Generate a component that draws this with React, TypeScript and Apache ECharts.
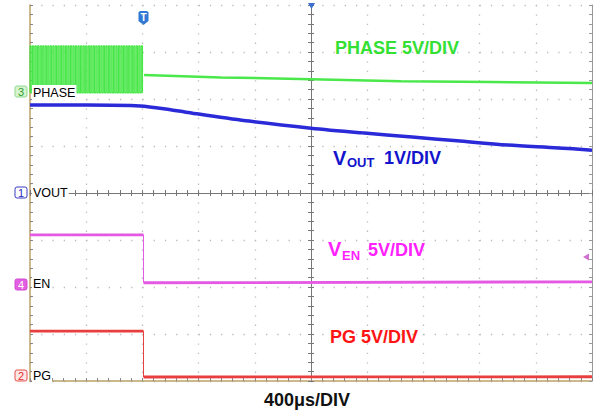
import React, { useEffect, useRef } from "react";
import * as echarts from "echarts";

// Time in divisions (400us/DIV), level in divisions (0 = bottom of screen)
const phaseBurstEdges = [
  0.0, 0.045, 0.09, 0.135, 0.18, 0.225, 0.27, 0.315, 0.36, 0.405, 0.45, 0.495,
  0.54, 0.585, 0.63, 0.675, 0.72, 0.765, 0.81, 0.855, 0.9, 0.945, 0.99, 1.035,
  1.08, 1.125, 1.17, 1.215, 1.26, 1.305, 1.35, 1.395, 1.44, 1.485, 1.53, 1.575,
  1.62, 1.665, 1.71, 1.755, 1.8, 1.845, 1.89, 1.935, 1.98,
];
const PHASE_HIGH = 7.13;
const PHASE_LOW = 6.13;
const PHASE_PULSE = 0.022;

const phaseAfterX = [2.03, 3.4, 5.0, 6.6, 8.2, 10.0];
const phaseAfterY = [6.51, 6.46, 6.42, 6.38, 6.36, 6.34];

const voutX = [0, 1.0, 1.96, 2.5, 3.0, 3.9, 5.0, 5.9, 6.8, 7.6, 8.5, 9.4, 10.0];
const voutY = [5.87, 5.87, 5.85, 5.77, 5.68, 5.53, 5.38, 5.28, 5.19, 5.11, 5.02, 4.96, 4.91];

const enX = [0, 2.02, 2.02, 10.0];
const enY = [3.11, 3.11, 2.09, 2.11];

const pgX = [0, 2.02, 2.02, 10.0];
const pgY = [1.06, 1.06, 0.085, 0.09];

const FONT = '"Liberation Sans", Arial, sans-serif';
const GOLD = "#bca266";
const GRID_DOT = "#bcbcbc";

const zip = (xs: number[], ys: number[]) => xs.map((x, i) => [x, ys[i]]);
// levels (thick) with a gap at the edge, and the edge itself (thin)
const levels = (xs: number[], ys: number[]) => [
  [xs[0], ys[0]],
  [xs[1], ys[1]],
  [xs[1], "-"],
  [xs[2], ys[2]],
  [xs[3], ys[3]],
];
const edge = (xs: number[], ys: number[]) => [
  [xs[1], ys[1]],
  [xs[2], ys[2]],
];

export default function App() {
  const ref = useRef<HTMLDivElement>(null);

  useEffect(() => {
    document.body.style.margin = "0";
    const chart = echarts.init(ref.current!, null, { renderer: "svg" });

    const burst: number[][] = [];
    phaseBurstEdges.forEach((t) => {
      burst.push([t, PHASE_LOW], [t, PHASE_HIGH], [t + PHASE_PULSE, PHASE_HIGH], [t + PHASE_PULSE, PHASE_LOW]);
    });

    const gridRect = { left: 30, top: 5, width: 562, height: 376 };

    const centerAxisX = (gridIndex: number, inside: boolean) => ({
      type: "value",
      gridIndex,
      min: -5,
      max: 5,
      interval: 1,
      axisLine: { show: true, onZero: true, lineStyle: { color: "#777", width: 1 } },
      axisTick: { show: true, inside, length: 3, lineStyle: { color: "#777" } },
      minorTick: { show: true, splitNumber: 5, length: 3, lineStyle: { color: "#777" } },
      axisLabel: { show: false },
      splitLine: { show: false },
    });
    const centerAxisY = (gridIndex: number, inside: boolean) => ({
      type: "value",
      gridIndex,
      min: -4,
      max: 4,
      interval: 1,
      axisLine: { show: true, onZero: true, lineStyle: { color: "#777", width: 1 } },
      axisTick: { show: true, inside, length: 3, lineStyle: { color: "#777" } },
      minorTick: { show: true, splitNumber: 5, length: 3, lineStyle: { color: "#777" } },
      axisLabel: { show: false },
      splitLine: { show: false },
    });

    const chanBox = (label: string, cy: number, fill: string, stroke: string, color: string) => ({
      type: "group",
      x: 15,
      y: cy - 5.5,
      z: 100,
      children: [
        { type: "rect", shape: { x: 0, y: 0, width: 12, height: 11, r: 2 }, style: { fill, stroke, lineWidth: 1 } },
        {
          type: "text",
          x: 6,
          y: 5.8,
          style: { text: label, fill: color, font: `11px ${FONT}`, textAlign: "center", textVerticalAlign: "middle" },
        },
      ],
    });

    const chanLabel = (text: string, cy: number) => ({
      type: "text",
      x: 32,
      y: cy,
      z: 100,
      style: {
        text,
        fill: "#000",
        font: `12.5px ${FONT}`,
        textAlign: "left",
        textVerticalAlign: "middle",
        backgroundColor: "#fff",
        padding: [1, 1, 1, 1],
      },
    });

    const bigText = (text: string, x: number, cy: number, color: string, size = 18, align = "left") => ({
      type: "text",
      x,
      y: cy,
      z: 100,
      style: {
        text,
        fill: color,
        font: `bold ${size}px ${FONT}`,
        textAlign: align,
        textVerticalAlign: "middle",
      },
    });

    const trace = (name: string, data: any[], color: string, width: number, extra: any = {}) => ({
      name,
      type: "line",
      xAxisIndex: 0,
      yAxisIndex: 0,
      data,
      symbol: "none",
      connectNulls: false,
      lineStyle: { color, width },
      z: 5,
      ...extra,
    });

    const option: any = {
      animation: false,
      backgroundColor: "#fff",
      grid: [{ ...gridRect }, { ...gridRect }, { ...gridRect }],
      xAxis: [
        {
          type: "value",
          gridIndex: 0,
          min: 0,
          max: 10,
          interval: 1,
          position: "bottom",
          axisLine: { show: true, onZero: false, lineStyle: { color: GOLD, width: 1.5 } },
          axisTick: { show: true, inside: true, length: 3, lineStyle: { color: "#888" } },
          minorTick: { show: true, splitNumber: 5, length: 3, lineStyle: { color: "#888" } },
          axisLabel: { show: false },
          splitLine: { show: true, lineStyle: { color: GRID_DOT, width: 1.3, type: [1.3, 8.1] } },
        },
        centerAxisX(1, true),
        centerAxisX(2, false),
      ],
      yAxis: [
        {
          type: "value",
          gridIndex: 0,
          min: 0,
          max: 8,
          interval: 1,
          position: "left",
          axisLine: { show: true, onZero: false, lineStyle: { color: GOLD, width: 1.5 } },
          axisTick: { show: true, inside: true, length: 3, lineStyle: { color: "#888" } },
          minorTick: { show: true, splitNumber: 5, length: 3, lineStyle: { color: "#888" } },
          axisLabel: { show: false },
          splitLine: { show: true, lineStyle: { color: GRID_DOT, width: 1.3, type: [1.3, 9.94] } },
        },
        {
          type: "value",
          gridIndex: 0,
          min: 0,
          max: 8,
          interval: 1,
          position: "right",
          axisLine: { show: true, onZero: false, lineStyle: { color: "#999", width: 1 } },
          axisTick: { show: true, inside: true, length: 3, lineStyle: { color: "#999" } },
          minorTick: { show: true, splitNumber: 5, length: 3, lineStyle: { color: "#999" } },
          axisLabel: { show: false },
          splitLine: { show: false },
        },
        centerAxisY(1, true),
        centerAxisY(2, false),
      ],
      series: [
        trace("PHASE burst", burst, "#45e645", 1.1),
        trace("PHASE", zip(phaseAfterX, phaseAfterY), "#4ae84a", 2.5),
        trace("VOUT", zip(voutX, voutY), "#2a2ad8", 3.5, { smooth: 0.3 }),
        trace("EN", levels(enX, enY), "#e458e4", 2.8),
        trace("EN edge", edge(enX, enY), "#e458e4", 1),
        trace("PG", levels(pgX, pgY), "#e83e3e", 2.8, { clip: false }),
        trace("PG edge", edge(pgX, pgY), "#e83e3e", 1),
      ],
      graphic: [
        chanBox("3", 91.5, "#d6f5cf", "#8fd98f", "#2f9a2f"),
        chanBox("1", 192.5, "#ffffff", "#3a3ac8", "#2a2ac0"),
        chanBox("4", 284.5, "#e25ee2", "#d24ad2", "#ffffff"),
        chanBox("2", 375.5, "#fde6e6", "#e85050", "#e03030"),
        chanLabel("PHASE", 92.5),
        chanLabel("VOUT", 192.5),
        chanLabel("EN", 284),
        chanLabel("PG", 376),
        bigText("PHASE 5V/DIV", 335, 47.5, "#33e033"),
        bigText("V", 333, 157.5, "#1414cc", 20),
        bigText("OUT", 347, 162.5, "#1414cc", 13),
        bigText("1V/DIV", 384, 158, "#1414cc"),
        bigText("V", 328, 249, "#ff22ff", 20),
        bigText("EN", 342, 255.5, "#ff22ff", 13),
        bigText("5V/DIV", 368, 249.5, "#ff22ff"),
        bigText("PG 5V/DIV", 330, 336.5, "#ff1414"),
        bigText("400μs/DIV", 307, 400, "#111", 18, "center"),
        {
          type: "group",
          x: 138.5,
          y: 11,
          z: 100,
          children: [
            {
              type: "polygon",
              shape: { points: [[0, 1.5], [1.5, 0], [8.5, 0], [10, 1.5], [10, 10], [5, 14], [0, 10]] },
              style: { fill: "#2f78d6" },
            },
            {
              type: "text",
              x: 5,
              y: 6,
              style: { text: "T", fill: "#fff", font: `bold 10px ${FONT}`, textAlign: "center", textVerticalAlign: "middle" },
            },
          ],
        },
        {
          type: "polygon",
          z: 100,
          shape: { points: [[308, 3], [315, 3], [311.5, 9]] },
          style: { fill: "#3a6fd0" },
        },
        {
          type: "polygon",
          z: 100,
          shape: { points: [[583, 257], [589, 253.5], [589, 260.5]] },
          style: { fill: "#d070d0" },
        },
      ],
    };

    chart.setOption(option);
    return () => chart.dispose();
  }, []);

  return <div ref={ref} style={{ width: 594, height: 417 }} />;
}
